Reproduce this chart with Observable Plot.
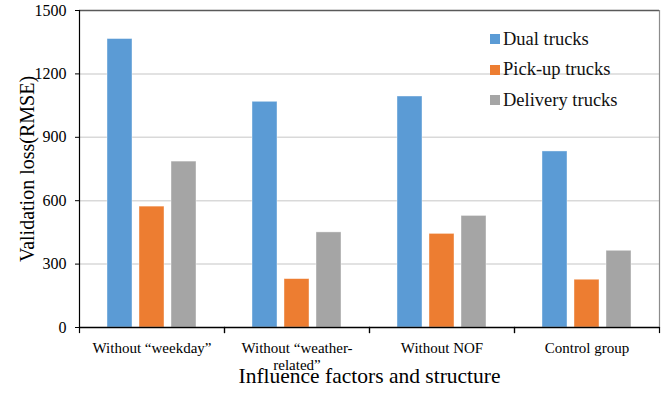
<!DOCTYPE html>
<html>
<head>
<meta charset="utf-8">
<script src="https://cdn.jsdelivr.net/npm/d3@7"></script>
<script src="https://cdn.jsdelivr.net/npm/@observablehq/plot@0.6"></script>
<style>
  html, body { margin: 0; padding: 0; background: #fff; font-family: "Liberation Serif", serif; }
  #chart { position: relative; width: 665px; height: 398px; color: #111; }
  #legend { position: absolute; left: 490px; top: 24px; font-family: "Liberation Serif", serif; font-size: 18.5px; }
  #legend .row { display: flex; align-items: center; height: 30.5px; }
  #legend .sw { width: 10px; height: 10px; margin-right: 3px; }
</style>
</head>
<body>
<div id="chart"><div id="legend"></div></div>
<script>
// Categories along the x axis and the three truck types
const factors = ["Without “weekday”", "Without “weather-related”", "Without NOF", "Control group"];
const factorLabels = ["Without “weekday”", "Without “weather-\nrelated”", "Without NOF", "Control group"];
const series = ["Dual trucks", "Pick-up trucks", "Delivery trucks"];
const colors = ["#5B9BD5", "#ED7D31", "#A5A5A5"];

// Validation loss (RMSE) per factor, one array per truck type
const dualTrucks = [1365, 1068, 1093, 833];
const pickupTrucks = [572, 229, 443, 226];
const deliveryTrucks = [785, 450, 528, 363];

const yTicks = [0, 300, 600, 900, 1200, 1500];

const serif = "Liberation Serif, serif";

const valuesBySeries = [dualTrucks, pickupTrucks, deliveryTrucks];
const rows = [];
factors.forEach((f, i) => {
  series.forEach((s, j) => rows.push({factor: f, series: s, value: valuesBySeries[j][i]}));
});

const labelOf = new Map(factors.map((f, i) => [f, factorLabels[i]]));

const chart = Plot.plot({
  width: 665,
  height: 398,
  marginLeft: 78,
  marginRight: 6,
  marginTop: 10,
  marginBottom: 71,
  style: {fontFamily: serif, color: "#111", background: "#fff"},
  fx: {domain: factors, padding: 0, axis: null},
  x: {domain: series, paddingInner: 0.22, paddingOuter: 0.875, axis: null},
  y: {domain: [0, 1500], axis: null},
  color: {domain: series, range: colors},
  marks: [
    Plot.gridY({ticks: yTicks.filter(t => t > 0 && t < 1500), stroke: "#d9d9d9", strokeOpacity: 1, strokeWidth: 1.5}),
    Plot.barY(rows, {fx: "factor", x: "series", y: "value", fill: "series", stroke: "#ffffff", strokeOpacity: 0.5, strokeWidth: 0.8}),
    Plot.ruleY([1500], {stroke: "#595959", strokeWidth: 1.5}),
    Plot.frame({anchor: "right", facet: "super", stroke: "#8c8c8c", strokeWidth: 1.2}),
    Plot.frame({anchor: "left", facet: "super", stroke: "#000", strokeWidth: 1.2}),
    Plot.ruleY([0], {stroke: "#000", strokeWidth: 1.5}),
    // category boundary ticks below the x axis
    Plot.frame({anchor: "left", insetTop: 317, insetBottom: -5, stroke: "#000", strokeWidth: 1.2}),
    Plot.frame({anchor: "right", insetTop: 317, insetBottom: -5, stroke: "#000", strokeWidth: 1.2}),
    Plot.axisY({ticks: yTicks, tickSize: 4, tickPadding: 9, fontSize: 16, fontFamily: serif, fill: "#000", label: null, tickFormat: d => String(d), stroke: "#000"}),
    Plot.axisFx({anchor: "bottom", tickSize: 0, tickPadding: 14, fontSize: 15, fontFamily: serif, fill: "#000", label: null, tickFormat: d => labelOf.get(d), lineHeight: 1.1}),
    Plot.text(["Influence factors and structure"], {frameAnchor: "bottom", dy: 55, fontSize: 21.5, fontFamily: serif, facet: "super", fill: "#000"}),
    Plot.text(["Validation loss(RMSE)"], {frameAnchor: "left", textAnchor: "middle", dx: -52, rotate: -90, fontSize: 20, fontFamily: serif, facet: "super", fill: "#000"})
  ]
});

document.getElementById("chart").prepend(chart);

// Legend for the three truck types
const legend = document.getElementById("legend");
series.forEach((s, i) => {
  const row = document.createElement("div");
  row.className = "row";
  const sw = document.createElement("span");
  sw.className = "sw";
  sw.style.background = colors[i];
  const label = document.createElement("span");
  label.textContent = s;
  row.append(sw, label);
  legend.append(row);
});
</script>
</body>
</html>
